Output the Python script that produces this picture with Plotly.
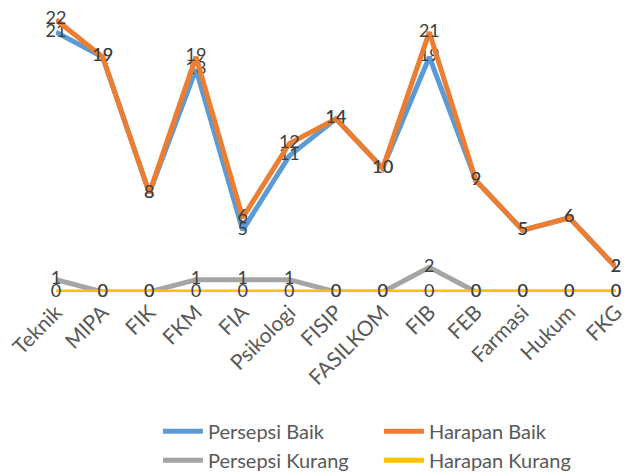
import plotly.graph_objects as go

categories = ["Teknik", "MIPA", "FIK", "FKM", "FIA", "Psikologi", "FISIP",
              "FASILKOM", "FIB", "FEB", "Farmasi", "Hukum", "FKG"]
persepsi_baik = [21, 19, 8, 18, 5, 11, 14, 10, 19, 9, 5, 6, 2]
harapan_baik = [22, 19, 8, 19, 6, 12, 14, 10, 21, 9, 5, 6, 2]
persepsi_kurang = [1, 0, 0, 1, 1, 1, 0, 0, 2, 0, 0, 0, 0]
harapan_kurang = [0, 0, 0, 0, 0, 0, 0, 0, 0, 0, 0, 0, 0]

series = [
    ("Persepsi Baik", persepsi_baik, "#5B9BD5"),
    ("Harapan Baik", harapan_baik, "#ED7D31"),
    ("Persepsi Kurang", persepsi_kurang, "#A5A5A5"),
    ("Harapan Kurang", harapan_kurang, "#FFC000"),
]

fig = go.Figure()
for name, vals, color in series:
    fig.add_trace(go.Scatter(
        x=categories, y=vals, name=name, mode="lines+text",
        line=dict(color=color, width=5),
        text=[str(v) for v in vals], textposition="middle center",
        textfont=dict(family="Lato, Carlito, sans-serif", size=18, color="#404040"),
        cliponaxis=False,
    ))

fig.update_layout(
    width=629, height=474,
    margin=dict(l=56, r=13, t=0, b=182, autoexpand=False),
    paper_bgcolor="white", plot_bgcolor="white",
    font=dict(family="Lato, Carlito, sans-serif", color="#595959"),
    xaxis=dict(range=[0, 12], showgrid=False, zeroline=False, showline=False,
               tickangle=-45, tickfont=dict(size=21, color="#595959"),
               ticks="", ticklabelstandoff=3, automargin=False),
    yaxis=dict(range=[0, 23.6], visible=False, fixedrange=True, automargin=False),
    showlegend=True,
    legend=dict(orientation="h", x=0.182, xanchor="left", y=-0.41, yanchor="top",
                entrywidth=166, entrywidthmode="pixels",
                font=dict(size=20, color="#595959"), tracegroupgap=0,
                itemwidth=40),
)

fig.write_html("out.html")
